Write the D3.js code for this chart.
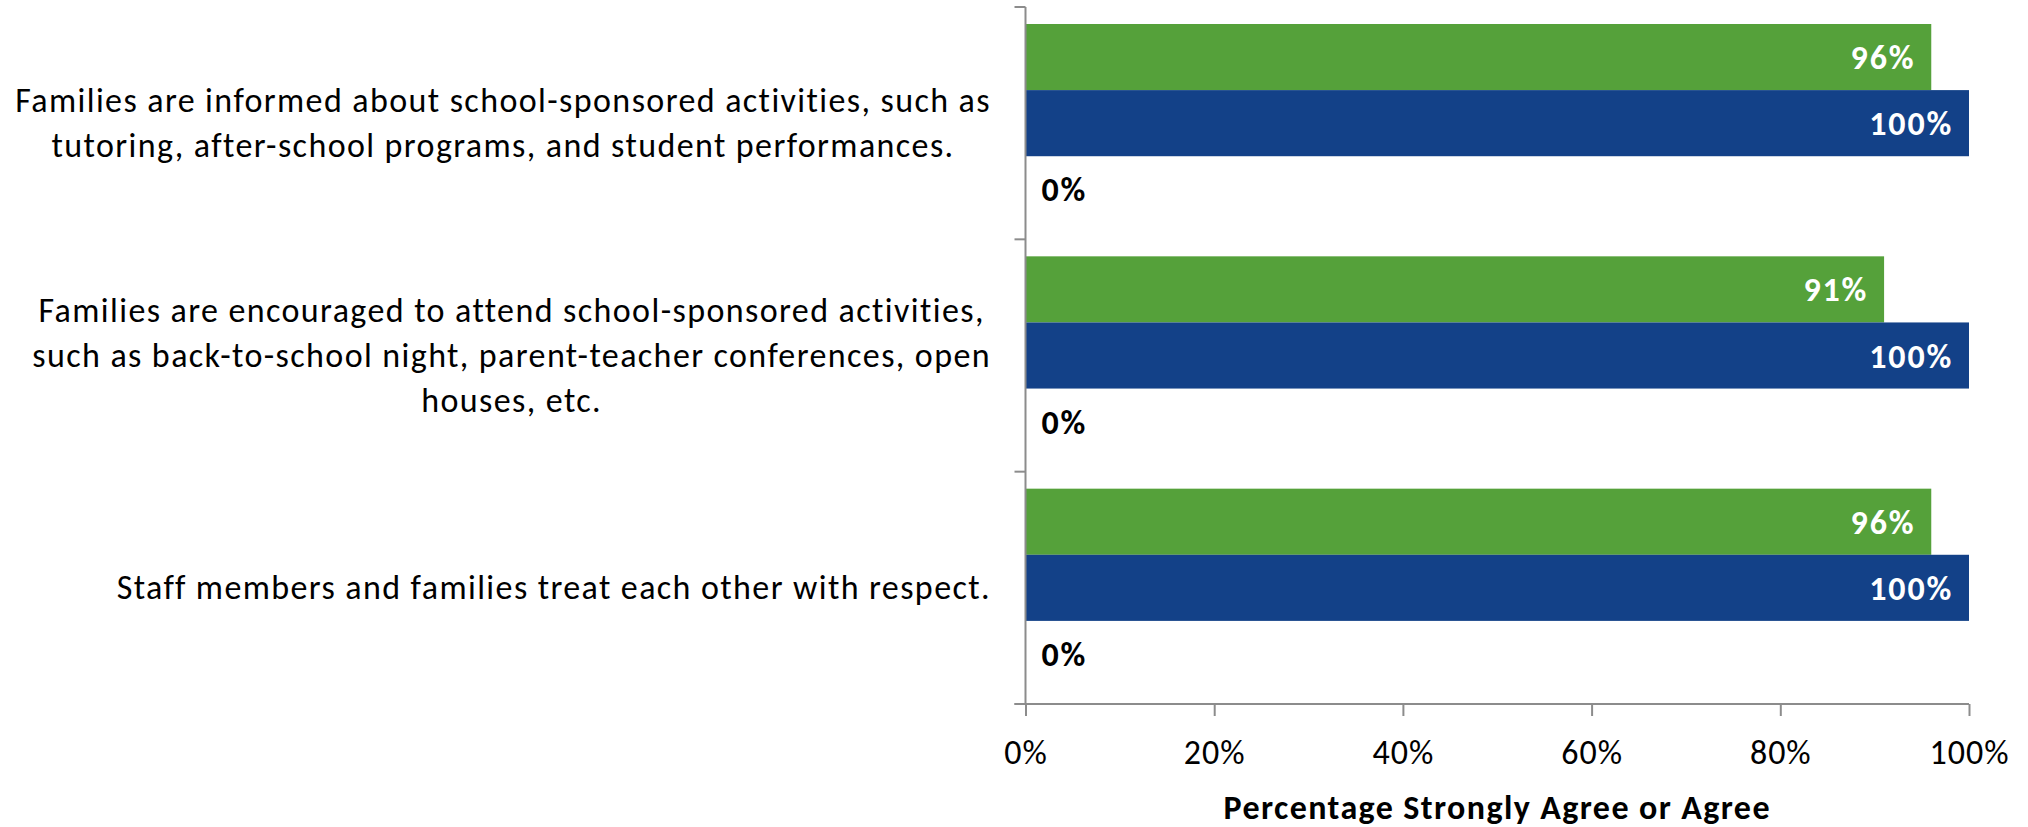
<!DOCTYPE html>
<html>
<head>
<meta charset="utf-8">
<script src="https://cdn.jsdelivr.net/npm/d3@7"></script>
<style>
  html, body { margin: 0; padding: 0; background: #ffffff; }
  svg text { font-family: Carlito, Calibri, Lato, "Open Sans", sans-serif; }
</style>
</head>
<body>
<svg id="chart" width="2028" height="827"></svg>
<script>
// ---- data ----
const categories = [
  "Families are informed about school-sponsored activities, such as tutoring, after-school programs, and student performances.",
  "Families are encouraged to attend school-sponsored activities, such as back-to-school night, parent-teacher conferences, open houses, etc.",
  "Staff members and families treat each other with respect."
];
const categoryLines = [
  ["Families are informed about school-sponsored activities, such as", "tutoring, after-school programs, and student performances."],
  ["Families are encouraged to attend school-sponsored activities,", "such as back-to-school night, parent-teacher conferences, open", "houses, etc."],
  ["Staff members and families treat each other with respect."]
];
const seriesNames = ["Series 1", "Series 2", "Series 3"];
const series1Values = [96, 91, 96];
const series2Values = [100, 100, 100];
const series3Values = [0, 0, 0];
const xTickValues = [0, 20, 40, 60, 80, 100];
const xAxisTitle = "Percentage Strongly Agree or Agree";

// ---- styles ----
const seriesColors = ["#55a13a", "#134188", "#a0a0a0"];
const labelColors = ["#ffffff", "#ffffff", "#000000"];
const axisColor = "#8c8c8c";
const fontSize = 34;

const svg = d3.select("#chart");
const plotLeft = 1025.5, plotRight = 1969, plotTop = 7, plotBottom = 704;

const x = d3.scaleLinear().domain([0, 100]).range([plotLeft, plotRight]);
const y = d3.scaleBand().domain(categories).range([plotTop, plotBottom]).paddingInner(0).paddingOuter(0);
const inner = d3.scaleBand().domain(seriesNames).range([17, y.bandwidth() - 17]).padding(0);

const allValues = [series1Values, series2Values, series3Values];
const rows = [];
categories.forEach((c, ci) => {
  seriesNames.forEach((s, si) => {
    rows.push({ cat: c, ci, series: s, si, value: allValues[si][ci] });
  });
});

// bars
svg.append("g").selectAll("rect").data(rows.filter(d => d.value > 0)).join("rect")
  .attr("x", x(0))
  .attr("y", d => y(d.cat) + inner(d.series))
  .attr("width", d => x(d.value) - x(0))
  .attr("height", inner.bandwidth())
  .attr("fill", d => seriesColors[d.si]);

// value labels
svg.append("g").selectAll("text").data(rows).join("text")
  .attr("x", d => d.value > 0 ? x(d.value) - 16 : x(0) + 16)
  .attr("y", d => y(d.cat) + inner(d.series) + inner.bandwidth() / 2 + 12)
  .attr("text-anchor", d => d.value > 0 ? "end" : "start")
  .attr("fill", d => labelColors[d.si])
  .attr("font-weight", "bold")
  .attr("font-size", fontSize)
  .style("letter-spacing", "1.8px")
  .text(d => d.value + "%");

// x axis
const xAxis = d3.axisBottom(x).tickValues(xTickValues).tickSize(12).tickFormat(d => d + "%");
const gx = svg.append("g").attr("transform", `translate(0,${plotBottom})`).call(xAxis);
gx.attr("font-family", null);
gx.select(".domain").attr("stroke", axisColor).attr("stroke-width", 2)
  .attr("d", `M${plotLeft - 11},0H${plotRight}`);
gx.selectAll(".tick line").attr("stroke", axisColor).attr("stroke-width", 2);
gx.selectAll(".tick text").attr("fill", "#000").attr("font-size", fontSize)
  .attr("dy", null).attr("y", 60).style("letter-spacing", "1px");

// y axis line and ticks at band boundaries
const gy = svg.append("g");
gy.append("line").attr("x1", plotLeft).attr("x2", plotLeft).attr("y1", plotTop).attr("y2", plotBottom)
  .attr("stroke", axisColor).attr("stroke-width", 2);
const boundaries = categories.map(c => y(c)).concat([plotBottom]);
gy.selectAll("line.tk").data(boundaries).join("line").attr("class", "tk")
  .attr("x1", plotLeft - 11).attr("x2", plotLeft).attr("y1", d => d).attr("y2", d => d)
  .attr("stroke", axisColor).attr("stroke-width", 2);

// category labels (block right-aligned, lines centered within block)
const labelRight = 991, lineH = 45;
categories.forEach((c, ci) => {
  const lines = categoryLines[ci];
  const cy = y(c) + y.bandwidth() / 2;
  const g = svg.append("g");
  const texts = lines.map((ln, li) => g.append("text")
    .attr("font-size", fontSize).attr("fill", "#000")
    .style("letter-spacing", "1.4px")
    .attr("y", cy + (li - (lines.length - 1) / 2) * lineH + 11)
    .attr("text-anchor", "middle")
    .text(ln));
  const maxW = d3.max(texts, t => t.node().getComputedTextLength());
  texts.forEach(t => t.attr("x", labelRight - maxW / 2));
});

// axis title
svg.append("text")
  .attr("x", (plotLeft + plotRight) / 2).attr("y", 819)
  .attr("text-anchor", "middle").attr("font-weight", "bold").attr("font-size", fontSize)
  .style("letter-spacing", "1.4px")
  .attr("fill", "#000").text(xAxisTitle);
</script>
</body>
</html>
